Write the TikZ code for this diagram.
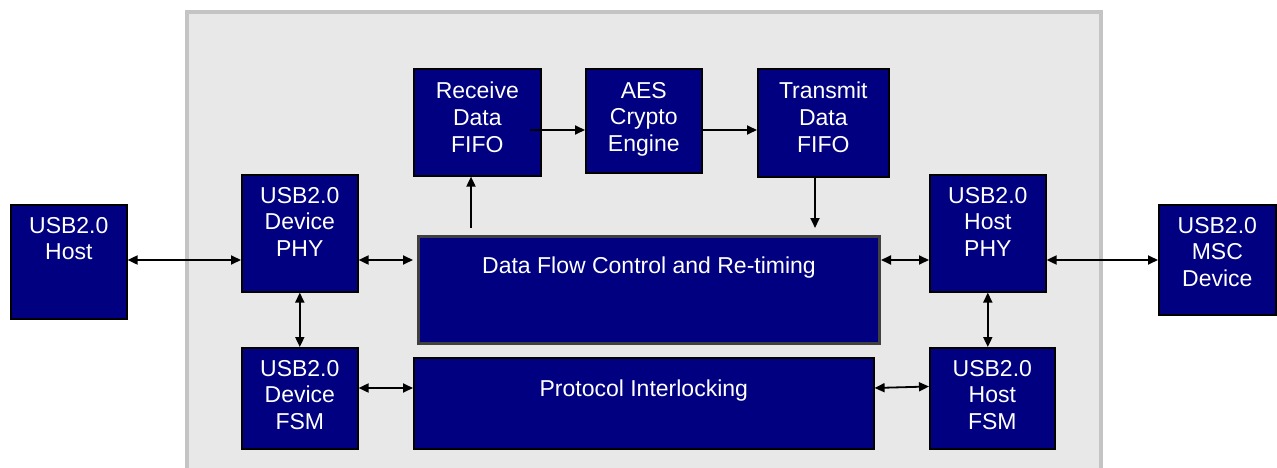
\documentclass[tikz,border=0pt]{standalone}
\usepackage{fontspec}
\setmainfont{Liberation Sans}
\usetikzlibrary{arrows.meta,calc}
\definecolor{navyblk}{HTML}{000080}
\definecolor{panelfill}{HTML}{E8E8E8}
\definecolor{panelline}{HTML}{C4C4C4}
\definecolor{dfline}{HTML}{404040}
\tikzset{
  blk/.style={draw=black, line width=1.6pt, fill=navyblk, rectangle, inner sep=0pt, anchor=north west},
  lbl/.style={text=white, align=center, inner sep=0pt, anchor=north, font=\fontsize{23}{26.7}\selectfont},
  conn/.style={line width=1.8pt, -{Triangle[length=10pt,width=9pt]}},
  biconn/.style={line width=1.8pt, {Triangle[length=10pt,width=9pt]}-{Triangle[length=10pt,width=9pt]}}
}
\begin{document}
\begin{tikzpicture}[x=1pt,y=-1pt]
\useasboundingbox (0,0) rectangle (1277,468);
% panel
\path[draw=panelline, fill=panelfill, line width=4pt] (187,12) rectangle (1101,480);
% boxes
\node[blk, minimum width=116pt, minimum height=114pt] (host) at (10,204) {};
\node[blk, minimum width=116pt, minimum height=117pt] (dphy) at (241,174) {};
\node[blk, minimum width=116pt, minimum height=101pt] (dfsm) at (241,347) {};
\node[blk, minimum width=127pt, minimum height=107pt] (rfifo) at (413,68) {};
\node[blk, minimum width=116pt, minimum height=104pt] (aes) at (585,68) {};
\node[blk, minimum width=131pt, minimum height=108pt] (tfifo) at (757,68) {};
\node[blk, draw=dfline, line width=3pt, minimum width=461pt, minimum height=107pt] (dflow) at (417,235) {};
\node[blk, minimum width=460pt, minimum height=91pt] (proto) at (413,357) {};
\node[blk, minimum width=116pt, minimum height=117pt] (hphy) at (929,174) {};
\node[blk, minimum width=125pt, minimum height=101pt] (hfsm) at (929,347) {};
\node[blk, minimum width=117pt, minimum height=110pt] (msc) at (1158,204) {};
% labels
\node[lbl] (hostt) at ($(host.north)+(0,13)$) {USB2.0\\Host};
\node[lbl] (dphyt) at ($(dphy.north)+(0,13)$) {USB2.0\\Device\\PHY};
\node[lbl] (dfsmt) at ($(dfsm.north)+(0,13)$) {USB2.0\\Device\\FSM};
\node[lbl] (rfifot) at ($(rfifo.north)+(0,14)$) {Receive\\Data\\FIFO};
\node[lbl] (aest) at ($(aes.north)+(0,14)$) {AES\\Crypto\\Engine};
\node[lbl] (tfifot) at ($(tfifo.north)+(0,14)$) {Transmit\\Data\\FIFO};
\node[lbl] (dflowt) at ($(dflow.north)+(0,22)$) {Data Flow Control and Re-timing};
\node[lbl] (protot) at ($(proto.north)+(0,23)$) {Protocol Interlocking};
\node[lbl] (hphyt) at ($(hphy.north)+(0,13)$) {USB2.0\\Host\\PHY};
\node[lbl] (hfsmt) at ($(hfsm.north)+(0,13)$) {USB2.0\\Host\\FSM};
\node[lbl] (msct) at ($(msc.north)+(0,13)$) {USB2.0\\MSC\\Device};
% helper rows/columns
\coordinate (yA) at (0,260);
\coordinate (yB) at (0,388);
\coordinate (yC) at (0,130);
\coordinate (xR) at (471,0);
\coordinate (xT) at (815,0);
% connectors
\draw[biconn] (yA -| host.east) -- (yA -| dphy.west);
\draw[biconn] (yA -| dphy.east) -- ($(yA -| dflow.west)+(-4,0)$);
\draw[conn] ($(xR |- dflow.north)+(0,-7)$) -- (xR |- rfifo.south);
\draw[conn] ($(yC -| rfifo.east)+(-12,0)$) -- (yC -| aes.west);
\draw[conn] (yC -| aes.east) -- (yC -| tfifo.west);
\draw[conn] (xT |- tfifo.south) -- ($(xT |- dflow.north)+(0,-7)$);
\draw[biconn] (yA -| dflow.east) -- (yA -| hphy.west);
\draw[biconn] (yA -| hphy.east) -- (yA -| msc.west);
\draw[biconn] (dphy.south) -- (dphy.south |- dfsm.north);
\draw[biconn] (hphy.south) -- (hphy.south |- hfsm.north);
\draw[biconn] (yB -| dfsm.east) -- (yB -| proto.west);
\draw[biconn] (yB -| proto.east) -- ($(yB -| hfsm.west)+(0,-1.5)$);
\end{tikzpicture}
\end{document}
